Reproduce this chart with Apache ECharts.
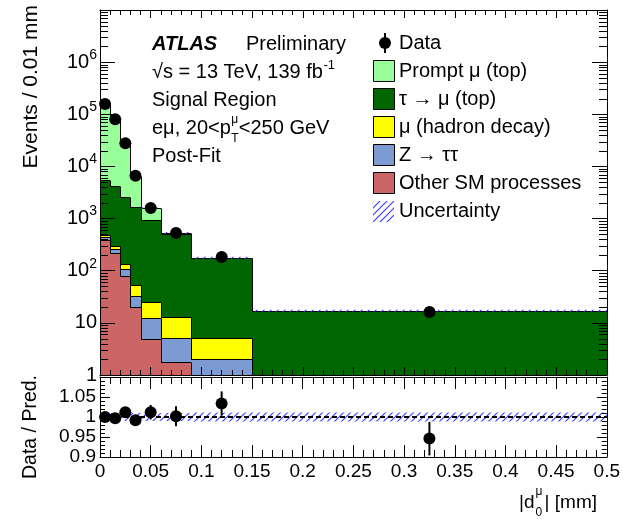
<!DOCTYPE html>
<html>
<head>
<meta charset="utf-8">
<script src="https://cdn.jsdelivr.net/npm/echarts@6/dist/echarts.min.js"></script>
<style>html,body{margin:0;padding:0;background:#fff;}#c{width:623px;height:520px;}</style>
</head>
<body>
<div id="c"></div>
<script>
// ---------------- data ----------------
const binEdges   = [0, 0.01, 0.02, 0.03, 0.04, 0.06, 0.09, 0.15, 0.5];
const binCenters = [0.005, 0.015, 0.025, 0.035, 0.05, 0.075, 0.12, 0.325];
// Events / 0.01 mm, per component (stack order bottom -> top)
const otherSM  = [390, 219, 79, 20, 4.9, 1.8, 0.5, 0.1];
const zTauTau  = [45, 41, 29, 13, 7.5, 3.3, 1.5, 0.3];
const muHadron = [50, 38, 27, 20, 12.6, 7.9, 3.1, 0.2];
const tauMu    = [5000, 3900, 2465, 1607, 915, 492, 171, 16.3];
const promptMu = [152500, 76000, 24900, 4990, 640, 23, 1, 0.2];
const dataVals = [158000, 80000, 27800, 6600, 1600, 529, 183, 16.2];
// ratio panel
const ratioVals = [1.0, 0.997, 1.012, 0.992, 1.012, 1.002, 1.034, 0.946];
const ratioErr  = [0.0025, 0.0035, 0.006, 0.012, 0.018, 0.025, 0.03, 0.042];
const uncRel    = [0.01, 0.01, 0.01, 0.01, 0.01, 0.01, 0.011, 0.011];
// tick labels
const xTickLabels     = ['0', '0.05', '0.1', '0.15', '0.2', '0.25', '0.3', '0.35', '0.4', '0.45', '0.5'];
const ratioTickLabels = ['0.9', '0.95', '1', '1.05', ''];
const legendLabels = ['Data', 'Prompt μ (top)', 'τ → μ (top)', 'μ (hadron decay)', 'Z → ττ', 'Other SM processes', 'Uncertainty'];

// ---------------- styling ----------------
const FONT = '"Liberation Sans", Arial, Helvetica, sans-serif';
const comps  = [otherSM, zTauTau, muHadron, tauMu, promptMu];
const colors = ['#cc6666', '#7b9bd2', '#ffff00', '#006600', '#99ff99'];

const bottoms = [], tops = [];
let run = binCenters.map(() => 0);
comps.forEach((c, k) => {
  bottoms.push(run.slice());
  run = run.map((v, i) => v + c[i]);
  tops.push(run.slice());
});
const totals = run;

function hatchCanvas() {
  const s = 7, c = document.createElement('canvas');
  c.width = s; c.height = s;
  const g = c.getContext('2d');
  g.strokeStyle = '#4040ff'; g.lineWidth = 1.2;
  g.beginPath();
  g.moveTo(0, s); g.lineTo(s, 0);
  g.moveTo(-2, 2); g.lineTo(2, -2);
  g.moveTo(s - 2, s + 2); g.lineTo(s + 2, s - 2);
  g.stroke();
  return c;
}
const hatch = { image: hatchCanvas(), repeat: 'repeat' };

const mctx = document.createElement('canvas').getContext('2d');
function tw(t, size, weight, style) {
  mctx.font = (style || 'normal') + ' ' + (weight || 'normal') + ' ' + size + 'px ' + FONT;
  return mctx.measureText(t).width;
}
function txt(t, x, y, size, opts) {
  opts = opts || {};
  return {
    type: 'text', x: x, y: y, rotation: opts.rotation || 0, z: 100,
    style: {
      text: t, fill: '#000',
      font: (opts.style || 'normal') + ' ' + (opts.weight || 'normal') + ' ' + size + 'px ' + FONT,
      textAlign: opts.align || 'left', textVerticalAlign: 'middle'
    }
  };
}
const c1 = v => Math.max(v, 1);
const px = v => Math.round(v) + 0.5;
const R = Math.round;

// ---------------- series ----------------
const series = [];
comps.forEach((c, k) => {
  const rows = binCenters.map((_, i) => [binEdges[i], binEdges[i + 1], bottoms[k][i], tops[k][i]]);
  series.push({
    type: 'custom', xAxisIndex: 0, yAxisIndex: 0, z: 2 + k * 0.01, silent: true,
    data: rows, encode: { x: [0, 1], y: [3] },
    renderItem: (params, api) => {
      const t = api.value(3);
      if (t <= 1) return { type: 'group', children: [] };
      const p0 = api.coord([api.value(0), t]);
      const p1 = api.coord([api.value(1), c1(api.value(2))]);
      const x0 = R(p0[0]), x1 = R(p1[0]), y0 = R(p0[1]), y1 = R(p1[1]);
      return { type: 'rect', shape: { x: x0, y: y0, width: x1 - x0, height: y1 - y0 },
               style: { fill: colors[k] } };
    }
  });
});
// step outlines of each component
comps.forEach((c, k) => {
  const rows = binCenters.map((_, i) => [binEdges[i], binEdges[i + 1], i > 0 ? tops[k][i - 1] : tops[k][i], tops[k][i], i]);
  series.push({
    type: 'custom', xAxisIndex: 0, yAxisIndex: 0, z: 4, silent: true,
    data: rows, encode: { x: [0, 1], y: [3] },
    renderItem: (params, api) => {
      const x0 = api.value(0), x1 = api.value(1), pt = api.value(2), t = api.value(3), i = api.value(4);
      const ch = [];
      const st = { stroke: '#000', lineWidth: 1 };
      const A = api.coord([x0, c1(t)]), B = api.coord([x1, c1(t)]);
      if (t > 1) ch.push({ type: 'line', shape: { x1: R(A[0]), y1: px(A[1]), x2: R(B[0]), y2: px(A[1]) }, style: st });
      if (i > 0 && (t > 1 || pt > 1)) {
        const P = api.coord([x0, c1(pt)]);
        ch.push({ type: 'line', shape: { x1: px(A[0]), y1: px(P[1]), x2: px(A[0]), y2: px(A[1]) }, style: st });
      }
      return { type: 'group', children: ch };
    }
  });
});
// uncertainty band on stack (main)
series.push({
  type: 'custom', xAxisIndex: 0, yAxisIndex: 0, z: 5, silent: true,
  data: binCenters.map((_, i) => [binEdges[i], binEdges[i + 1], totals[i] * (1 - uncRel[i]), totals[i] * (1 + uncRel[i])]),
  encode: { x: [0, 1], y: [3] },
  renderItem: (params, api) => {
    const p0 = api.coord([api.value(0), api.value(3)]);
    const p1 = api.coord([api.value(1), api.value(2)]);
    let y0 = p0[1], h = p1[1] - p0[1];
    if (h < 2) { y0 = (p0[1] + p1[1]) / 2 - 1; h = 2; }
    return { type: 'rect', shape: { x: p0[0], y: y0, width: p1[0] - p0[0], height: h }, style: { fill: hatch } };
  }
});
// data points (main)
series.push({
  type: 'scatter', xAxisIndex: 0, yAxisIndex: 0, z: 6, silent: true,
  symbol: 'circle', symbolSize: 12, itemStyle: { color: '#000', opacity: 1 },
  data: binCenters.map((x, i) => [x, dataVals[i]])
});
// log minor ticks
const logMinor = [];
for (let e = 0; e < 7; e++) for (let m = 2; m <= 9; m++) logMinor.push([0, m * Math.pow(10, e)]);
series.push({
  type: 'custom', xAxisIndex: 0, yAxisIndex: 0, z: 11, silent: true,
  data: logMinor, encode: { x: 0, y: 1 },
  renderItem: (params, api) => {
    const cs = params.coordSys;
    const y = px(api.coord([0, api.value(1)])[1]);
    const st = { stroke: '#000', lineWidth: 1 };
    return { type: 'group', children: [
      { type: 'line', shape: { x1: cs.x, y1: y, x2: cs.x + 8, y2: y }, style: st },
      { type: 'line', shape: { x1: cs.x + cs.width - 8, y1: y, x2: cs.x + cs.width, y2: y }, style: st }
    ] };
  }
});
// ratio: uncertainty band
series.push({
  type: 'custom', xAxisIndex: 2, yAxisIndex: 2, z: 2, silent: true,
  data: binCenters.map((_, i) => [binEdges[i], binEdges[i + 1], 1 - uncRel[i], 1 + uncRel[i]]),
  encode: { x: [0, 1], y: [2, 3] },
  renderItem: (params, api) => {
    const p0 = api.coord([api.value(0), api.value(3)]);
    const p1 = api.coord([api.value(1), api.value(2)]);
    return { type: 'rect', shape: { x: p0[0], y: p0[1], width: p1[0] - p0[0], height: p1[1] - p0[1] }, style: { fill: hatch } };
  }
});
// ratio: dashed line at 1
series.push({
  type: 'custom', xAxisIndex: 2, yAxisIndex: 2, z: 3, silent: true,
  data: [[0, 0.5, 1]], encode: { x: [0, 1], y: 2 },
  renderItem: (params, api) => {
    const a = api.coord([api.value(0), api.value(2)]), b = api.coord([api.value(1), api.value(2)]);
    return { type: 'line', shape: { x1: a[0], y1: R(a[1]), x2: b[0], y2: R(b[1]) },
             style: { stroke: '#000', lineWidth: 2, lineDash: [5, 3] } };
  }
});
// ratio error bars
series.push({
  type: 'custom', xAxisIndex: 2, yAxisIndex: 2, z: 4, silent: true,
  data: binCenters.map((x, i) => [x, ratioVals[i] - ratioErr[i], ratioVals[i] + ratioErr[i]]),
  encode: { x: 0, y: [1, 2] },
  renderItem: (params, api) => {
    const a = api.coord([api.value(0), api.value(1)]), b = api.coord([api.value(0), api.value(2)]);
    return { type: 'line', shape: { x1: a[0], y1: a[1], x2: b[0], y2: b[1] }, style: { stroke: '#000', lineWidth: 2 } };
  }
});
// ratio points
series.push({
  type: 'scatter', xAxisIndex: 2, yAxisIndex: 2, z: 5, silent: true,
  symbol: 'circle', symbolSize: 12, itemStyle: { color: '#000', opacity: 1 },
  data: binCenters.map((x, i) => [x, ratioVals[i]])
});

// ---------------- axes ----------------
function xAx(grid, pos, labels, major, minor) {
  return {
    type: 'value', gridIndex: grid, position: pos, min: 0, max: 0.5, interval: 0.05, z: 10,
    axisLine: { show: true, onZero: false, lineStyle: { color: '#000', width: 1 } },
    axisTick: { show: true, inside: true, length: major, lineStyle: { color: '#000' } },
    minorTick: { show: true, splitNumber: 5, length: minor, lineStyle: { color: '#000' } },
    splitLine: { show: false },
    axisLabel: labels ? {
      show: true, margin: 5, fontSize: 19, fontFamily: FONT, color: '#000',
      formatter: v => xTickLabels[Math.round(v / 0.05)]
    } : { show: false }
  };
}
function yLog(pos, labels) {
  return {
    type: 'log', gridIndex: 0, position: pos, min: 1, max: 1e7, logBase: 10, splitNumber: 7, z: 10,
    axisLine: { show: true, onZero: false, lineStyle: { color: '#000', width: 1 } },
    axisTick: { show: true, inside: true, length: 15, lineStyle: { color: '#000' } },
    splitLine: { show: false },
    axisLabel: labels ? {
      show: true, margin: 3, color: '#000', fontFamily: FONT,
      formatter: v => {
        const e = Math.round(Math.log10(v));
        if (e >= 7) return '';
        if (e === 0) return '{b|1}';
        if (e === 1) return '{b|10}';
        return '{b|10}{s|' + e + '}';
      },
      rich: {
        b: { fontSize: 20, fontFamily: FONT, color: '#000' },
        s: { fontSize: 14, fontFamily: FONT, color: '#000', padding: [0, 0, 14, 0] }
      }
    } : { show: false }
  };
}
function yRatio(pos, labels) {
  return {
    type: 'value', gridIndex: 1, position: pos, min: 0.9, max: 1.1, interval: 0.05, z: 10,
    axisLine: { show: true, onZero: false, lineStyle: { color: '#000', width: 1 } },
    axisTick: { show: true, inside: true, length: 10, lineStyle: { color: '#000' } },
    minorTick: { show: true, splitNumber: 5, length: 5, lineStyle: { color: '#000' } },
    splitLine: { show: false },
    axisLabel: labels ? {
      show: true, margin: 4, fontSize: 19, fontFamily: FONT, color: '#000',
      formatter: v => ratioTickLabels[Math.round((v - 0.9) / 0.05)]
    } : { show: false }
  };
}

// ---------------- graphic texts ----------------
const G = [];
G.push(txt('ATLAS', 152, 44, 20, { weight: 'bold', style: 'italic' }));
G.push(txt('Preliminary', 246, 44, 20));
const l2 = '√s = 13 TeV, 139 fb';
G.push(txt(l2, 152, 72, 20));
G.push(txt('-1', 152 + tw(l2, 20) + 0.5, 65, 13));
G.push(txt('Signal Region', 152, 100, 20));
const l4 = 'eμ, 20<p';
const w4 = tw(l4, 20);
G.push(txt(l4, 152, 128, 20));
G.push(txt('μ', 152 + w4 + 0.5, 120, 12));
G.push(txt('T', 152 + w4 + 0.5, 139, 12));
G.push(txt('<250 GeV', 152 + w4 + 8, 128, 20));
G.push(txt('Post-Fit', 152, 156, 20));
// legend
const legY = [43, 71, 99, 127, 155, 183, 211];
G.push({ type: 'line', z: 100, shape: { x1: 385, y1: 33, x2: 385, y2: 53 }, style: { stroke: '#000', lineWidth: 2 } });
G.push({ type: 'circle', z: 100, shape: { cx: 385, cy: 43, r: 6 }, style: { fill: '#000' } });
const legColors = ['#99ff99', '#006600', '#ffff00', '#7b9bd2', '#cc6666'];
legColors.forEach((c, i) => {
  G.push({ type: 'rect', z: 100, shape: { x: 373.5, y: legY[i + 1] - 10.5, width: 21, height: 21 },
           style: { fill: c, stroke: '#000', lineWidth: 1 } });
});
G.push({ type: 'rect', z: 100, shape: { x: 373, y: legY[6] - 10, width: 21, height: 21 }, style: { fill: hatch } });
legendLabels.forEach((t, i) => G.push(txt(t, 399, legY[i], 20)));
// axis titles
G.push(txt('Events / 0.01 mm', 31, 5, 21, { rotation: Math.PI / 2, align: 'right' }));
G.push(txt('Data / Pred.', 31, 375, 19.5, { rotation: Math.PI / 2, align: 'right' }));
const xt = '| [mm]';
const wxt = tw(xt, 19);
G.push(txt(xt, 597, 503, 19, { align: 'right' }));
G.push(txt('μ', 597 - wxt - 9, 492, 12));
G.push(txt('0', 597 - wxt - 9, 513, 12));
G.push(txt('|d', 597 - wxt - 10, 503, 19, { align: 'right' }));

const chart = echarts.init(document.getElementById('c'), null, { renderer: 'canvas', width: 623, height: 520 });
chart.setOption({
  animation: false,
  backgroundColor: '#fff',
  grid: [
    { left: 100, top: 10, width: 507, height: 365, show: false, containLabel: false },
    { left: 100, top: 377, width: 507, height: 80, show: false, containLabel: false }
  ],
  xAxis: [xAx(0, 'bottom', false, 8, 5), xAx(0, 'top', false, 8, 5), xAx(1, 'bottom', true, 12, 7), xAx(1, 'top', false, 12, 7)],
  yAxis: [yLog('left', true), yLog('right', false), yRatio('left', true), yRatio('right', false)],
  series: series,
  graphic: G
});
</script>
</body>
</html>
